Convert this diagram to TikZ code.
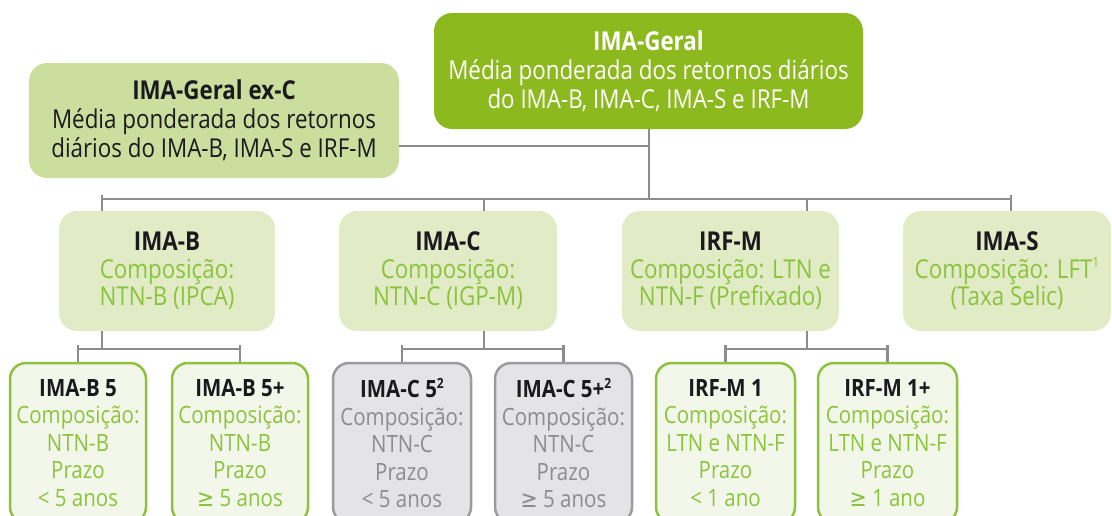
\documentclass[tikz,border=0pt]{standalone}
\usepackage{fontspec}
\setmainfont{Open Sans}[FakeStretch=0.86]
\newfontfamily\symfont{DejaVu Sans}[FakeStretch=0.86]
\newcommand{\gesign}{{\symfont ≥}}
\newcommand{\supr}[1]{\raisebox{0.4em}{\fontsize{14}{14}\selectfont #1}}
\definecolor{dkgreen}{RGB}{140,186,30}
\definecolor{excfill}{RGB}{204,222,158}
\definecolor{midfill}{RGB}{225,235,198}
\definecolor{leaffill}{RGB}{243,247,233}
\definecolor{leafborder}{RGB}{140,194,62}
\definecolor{grtext}{RGB}{138,196,60}
\definecolor{greyfill}{RGB}{228,228,230}
\definecolor{greyborder}{RGB}{155,155,158}
\definecolor{greytext}{RGB}{140,140,142}
\definecolor{txtblack}{RGB}{25,25,30}
\definecolor{conncol}{RGB}{140,140,142}
\newcommand{\ttl}[1]{{\bfseries\color{txtblack}#1}}
\begin{document}
\begin{tikzpicture}[x=1pt,y=-1pt,
  boxbase/.style={rounded corners=18pt, inner sep=0pt, align=center},
  geralbox/.style={boxbase, fill=dkgreen, text=white, font=\fontsize{26}{29}\selectfont},
  excbox/.style={boxbase, fill=excfill, text=txtblack, font=\fontsize{26}{29}\selectfont},
  midbox/.style={boxbase, fill=midfill, text=grtext, minimum height=120pt, font=\fontsize{26}{27.5}\selectfont},
  leafbox/.style={boxbase, rounded corners=16pt, draw=leafborder, line width=2.5pt, fill=leaffill, text=grtext, minimum height=160pt, font=\fontsize{23.8}{27.5}\selectfont},
  greyleaf/.style={leafbox, draw=greyborder, fill=greyfill, text=greytext},
  conn/.style={draw=conncol, line width=2.8pt}]
\useasboundingbox (0,0) rectangle (1112,515);
\clip (0,0) rectangle (1112,515);

% top level
\node[geralbox, minimum width=429pt, minimum height=116pt] (geral) at (648.5,71)
  {\textbf{IMA-Geral}\\Média ponderada dos retornos diários\\do IMA-B, IMA-C, IMA-S e IRF-M};
\node[excbox, minimum width=370pt, minimum height=115pt] (exc) at (214,120.5)
  {\textbf{IMA-Geral ex-C}\\Média ponderada dos retornos\\diários do IMA-B, IMA-S e IRF-M};

% middle level
\node[midbox, minimum width=216pt] (imab) at (167,271)
  {\ttl{IMA-B}\\Composição:\\NTN-B (IPCA)};
\node[midbox, minimum width=218pt] (imac) at (448,271)
  {\ttl{IMA-C}\\Composição:\\NTN-C (IGP-M)};
\node[midbox, minimum width=217pt] (irfm) at (730.5,271)
  {\ttl{IRF-M}\\Composição: LTN e\\NTN-F (Prefixado)};
\node[midbox, minimum width=208pt] (imas) at (1007,271)
  {\ttl{IMA-S}\\Composição: LFT\supr{1}\\(Taxa Selic)};

% leaves
\node[leafbox, minimum width=136pt] (ib5) at (78,443)
  {\ttl{IMA-B 5}\\Composição:\\NTN-B\\Prazo\\< 5 anos};
\node[leafbox, minimum width=136pt] (ib5p) at (240,443)
  {\ttl{IMA-B 5+}\\Composição:\\NTN-B\\Prazo\\\gesign{} 5 anos};
\node[greyleaf, minimum width=138pt] (ic5) at (402,443)
  {\ttl{IMA-C 5\supr{2}}\\Composição:\\NTN-C\\Prazo\\< 5 anos};
\node[greyleaf, minimum width=137pt] (ic5p) at (563.5,443)
  {\ttl{IMA-C 5+\supr{2}}\\Composição:\\NTN-C\\Prazo\\\gesign{} 5 anos};
\node[leafbox, minimum width=139pt] (if1) at (725.5,443)
  {\ttl{IRF-M 1}\\Composição:\\LTN e NTN-F\\Prazo\\< 1 ano};
\node[leafbox, minimum width=139pt] (if1p) at (887.5,443)
  {\ttl{IRF-M 1+}\\Composição:\\LTN e NTN-F\\Prazo\\\gesign{} 1 ano};

% connector coordinates
\coordinate (jG) at (649,199);
\coordinate (jE) at (649,146);
\coordinate (busUp) at (0,195);
\coordinate (busY) at (0,199);
\coordinate (xB) at (102,0);
\coordinate (xC) at (484,0);
\coordinate (xM) at (807,0);
\coordinate (xS) at (1011,0);
\coordinate (lowY) at (0,349);
\coordinate (lowUp) at (0,345);

% upper connectors
\draw[conn] (geral.south -| jG) -- (jG);
\draw[conn] (exc.east |- jE) -- (jE);
\draw[conn] (xB |- busY) -- (xS |- busY);
\draw[conn] (imab.north -| xB) -- (xB |- busUp);
\draw[conn] (imas.north -| xS) -- (xS |- busUp);
\draw[conn] (imac.north -| xC) -- (xC |- busY);
\draw[conn] (irfm.north -| xM) -- (xM |- busY);

% lower connectors
\draw[conn] (imab.south -| xB) -- (xB |- lowY);
\draw[conn] (ib5.north |- lowY) -- (ib5p.north |- lowY);
\draw[conn] (ib5.north) -- (ib5.north |- lowUp);
\draw[conn] (ib5p.north) -- (ib5p.north |- lowUp);

\draw[conn] (imac.south -| xC) -- (xC |- lowY);
\draw[conn] (ic5.north |- lowY) -- (ic5p.north |- lowY);
\draw[conn] (ic5.north) -- (ic5.north |- lowUp);
\draw[conn] (ic5p.north) -- (ic5p.north |- lowUp);

\draw[conn] (irfm.south -| xM) -- (xM |- lowY);
\draw[conn] (if1.north |- lowY) -- (if1p.north |- lowY);
\draw[conn] (if1.north) -- (if1.north |- lowUp);
\draw[conn] (if1p.north) -- (if1p.north |- lowUp);
\end{tikzpicture}
\end{document}
